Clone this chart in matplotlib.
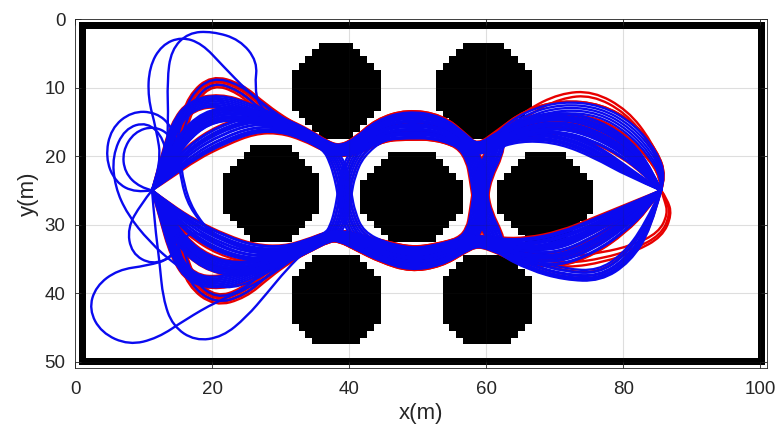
import numpy as np
import matplotlib
matplotlib.use("Agg")
import matplotlib.pyplot as plt
from matplotlib.path import Path
from matplotlib.patches import PathPatch
from matplotlib.colors import ListedColormap

plt.rcParams["font.family"] = ["Liberation Sans", "DejaVu Sans"]

# ---------------- occupancy map ----------------
MAP_COLS, MAP_ROWS = 100, 50
# obstacles: centre x, centre y, half width, half height, chamfer limit (|dx|+|dy|)
OBS_CX = [38.0, 59.5, 28.5, 49.0, 68.5, 38.0, 60.0]
OBS_CY = [10.5, 10.5, 25.5, 26.0, 26.0, 41.0, 41.0]
OBS_HW = [6.0, 6.5, 6.5, 7.0, 6.5, 6.0, 6.0]
OBS_HH = [6.5, 6.5, 6.5, 6.0, 6.0, 6.0, 6.0]
OBS_CH = [8.5, 9.0, 9.0, 9.0, 8.5, 9.0, 9.0]

START = (11.2, 25.0)
GOAL = (85.5, 25.0)

# ---------------- route pieces: (x, y, band half-width) ----------------
S0 = (START[0], START[1], 0.0)
G0 = (GOAL[0], GOAL[1], 0.0)

LEFT = {
    # fans from the start toward the upper-left gap
    "lu_a": [S0, (13.5, 22.8, .6), (17.0, 19.5, 1.2), (21.5, 16.9, 1.5), (26.0, 15.4, 1.3),
             (30.0, 15.6, 1.0), (33.5, 16.9, .8), (36.6, 18.6, .7)],
    "lu_b": [S0, (13.2, 21.8, .5), (15.5, 17.5, .9), (19.0, 14.3, 1.1), (23.5, 13.6, 1.1),
             (27.5, 14.5, 1.0), (31.0, 15.6, .9), (34.0, 17.0, .8), (36.6, 18.6, .7)],
    "lu_c": [S0, (14.0, 21.0, .4), (15.6, 16.0, .6), (17.0, 11.5, .8), (20.0, 8.8, .8),
             (24.0, 10.0, .8), (27.5, 13.0, .8), (31.0, 15.4, .8), (34.0, 17.0, .7), (36.6, 18.6, .6)],
    "lu_d": [S0, (12.6, 21.5, .4), (14.5, 15.5, .6), (17.0, 12.5, .8), (21.0, 11.8, .9),
             (25.5, 13.2, .9), (30.0, 15.2, .9), (33.8, 16.9, .8), (36.6, 18.6, .7)],
    # fans toward the lower-left gap
    "ll_a": [S0, (13.5, 27.5, .6), (17.0, 30.5, 1.2), (21.5, 33.0, 1.5), (26.0, 34.3, 1.3),
             (30.5, 34.2, 1.0), (34.0, 33.0, .8), (36.8, 31.8, .7)],
    "ll_b": [S0, (13.3, 28.5, .5), (15.5, 32.5, .9), (19.0, 35.5, 1.1), (23.5, 36.6, 1.1),
             (27.5, 35.8, 1.0), (31.0, 34.5, .9), (34.2, 33.1, .8), (36.8, 31.8, .7)],
    "ll_c": [S0, (14.0, 29.0, .4), (15.6, 34.0, .6), (17.0, 38.5, .8), (20.5, 41.2, .8),
             (24.5, 40.0, .8), (28.0, 37.0, .8), (31.0, 34.8, .8), (34.2, 33.1, .7), (36.8, 31.8, .6)],
    "ll_d": [S0, (12.6, 28.5, .4), (14.5, 34.5, .6), (17.0, 38.0, .8), (21.0, 38.6, .9),
             (25.5, 37.2, .9), (30.0, 35.0, .9), (33.8, 33.2, .8), (36.8, 31.8, .7)],
    # wide manoeuvres near the start
    "loop_t1": [S0, (12.6, 21.0, 0), (11.8, 16.0, 0), (10.6, 11.5, 0), (10.8, 7.0, 0), (12.6, 3.8, 0),
                (15.5, 2.6, 0), (18.5, 3.6, 0), (21.5, 6.8, 0), (25.0, 10.4, 0), (28.5, 13.4, .2),
                (31.5, 15.5, .3), (34.2, 17.0, .3), (36.6, 18.6, .3)],
    "loop_t2": [S0, (13.2, 21.0, 0), (13.6, 15.0, 0), (13.4, 9.0, 0), (14.0, 4.5, 0), (16.5, 2.0, 0),
                (20.0, 1.8, 0), (24.0, 3.0, 0), (26.6, 6.2, 0), (26.2, 9.8, 0), (26.8, 12.8, 0),
                (29.8, 14.9, .2), (33.2, 16.7, .3), (36.6, 18.6, .3)],
    "loop_w1": [S0, (8.8, 25.4, 0), (5.8, 23.8, 0), (4.4, 20.2, 0), (5.2, 16.0, 0), (8.2, 13.5, 0),
                (11.8, 13.6, 0), (14.2, 15.8, 0), (15.0, 19.5, 0), (15.4, 23.5, 0), (16.6, 27.5, 0),
                (19.5, 31.0, 0), (24.0, 33.4, .2), (28.5, 34.4, .3), (32.5, 33.5, .3), (36.8, 31.8, .3)],
    "loop_w2": [S0, (9.4, 24.6, 0), (7.2, 22.4, 0), (6.9, 19.3, 0), (8.6, 16.5, 0), (11.5, 15.6, 0),
                (14.0, 17.0, 0), (15.3, 20.0, 0), (15.8, 24.0, 0), (17.2, 28.0, 0), (20.0, 31.5, 0),
                (24.5, 33.6, .2), (29.0, 34.3, .3), (33.0, 33.3, .3), (36.8, 31.8, .3)],
    "loop_b1": [S0, (12.5, 28.5, 0), (14.8, 32.2, 0), (14.0, 35.0, 0), (10.5, 36.0, 0), (6.2, 36.6, 0),
                (3.0, 39.0, 0), (2.0, 42.4, 0), (3.8, 45.8, 0), (7.8, 47.6, 0), (12.0, 46.6, 0),
                (16.2, 43.8, 0), (20.5, 41.3, 0), (25.5, 39.2, .2), (30.0, 36.4, .3), (33.8, 33.4, .3),
                (36.8, 31.8, .3)],
    "loop_b2": [S0, (11.6, 30.0, 0), (12.3, 35.5, 0), (12.8, 40.8, 0), (14.2, 44.8, 0), (17.5, 47.0, 0),
                (21.5, 46.4, 0), (25.0, 43.5, 0), (28.0, 40.0, 0), (30.8, 36.6, .2), (33.8, 33.6, .3),
                (36.8, 31.8, .3)],
    "loop_c": [S0, (9.6, 27.0, 0), (7.6, 30.5, 0), (8.2, 34.2, 0), (11.2, 35.9, 0), (14.4, 34.6, 0),
               (15.8, 31.8, 0), (17.8, 31.0, 0), (21.0, 33.0, .2), (25.5, 34.6, .3), (30.0, 34.3, .3),
               (33.8, 33.1, .3), (36.8, 31.8, .3)],
    "loop_d": [S0, (13.5, 22.0, 0), (13.0, 17.5, 0), (10.5, 15.0, 0), (7.2, 16.0, 0), (5.4, 20.0, 0),
               (5.8, 24.5, 0), (7.6, 28.5, 0), (10.8, 32.5, 0), (14.5, 35.8, 0), (18.5, 38.5, 0),
               (23.0, 39.5, .2), (28.0, 37.2, .3), (32.5, 34.0, .3), (36.8, 31.8, .3)],
}

MID = {
    "UU": [(38.6, 19.3, .8), (41.2, 18.5, 1.1), (44.5, 16.2, 1.6), (48.5, 15.4, 2.1),
           (53.0, 15.8, 1.8), (56.5, 17.8, 1.1), (58.8, 19.2, .8)],
    "LL": [(38.6, 31.6, .8), (41.3, 32.6, 1.1), (45.0, 34.0, 1.5), (49.0, 35.1, 1.7),
           (53.0, 34.5, 1.6), (56.5, 33.0, 1.1), (58.8, 32.3, .8)],
    "UL": [(38.0, 20.4, 1.1), (38.9, 23.0, 1.2), (39.3, 25.5, 1.1), (39.8, 28.5, 1.2), (41.3, 31.8, 1.2),
           (45.0, 34.0, 1.5), (49.0, 35.1, 1.7), (53.0, 34.5, 1.6), (56.5, 33.0, 1.1), (58.8, 32.3, .8)],
    "LU": [(38.0, 30.8, 1.1), (38.9, 28.3, 1.2), (39.3, 25.5, 1.1), (39.8, 22.6, 1.2), (41.2, 19.4, 1.2),
           (44.5, 16.2, 1.6), (48.5, 15.4, 2.1), (53.0, 15.8, 1.8), (56.5, 17.8, 1.1), (58.8, 19.2, .8)],
    "UUL": [(38.6, 19.3, .8), (41.2, 18.5, 1.1), (44.5, 16.2, 1.6), (48.5, 15.4, 2.1),
            (53.0, 15.8, 1.8), (56.5, 17.8, 1.1), (58.2, 20.4, 1.1), (58.8, 23.0, 1.2),
            (59.1, 25.7, 1.1), (59.6, 28.5, 1.2), (61.2, 31.8, 1.2)],
    "LLU": [(38.6, 31.6, .8), (41.3, 32.6, 1.1), (45.0, 34.0, 1.5), (49.0, 35.1, 1.7),
            (53.0, 34.5, 1.6), (56.5, 33.0, 1.1), (58.2, 31.0, 1.1), (58.8, 28.5, 1.2),
            (59.1, 25.7, 1.1), (59.6, 22.8, 1.2), (61.2, 19.5, 1.2)],
}

RIGHT = {
    "ru_a": [(62.0, 17.4, 1.0), (66.0, 15.6, 1.4), (71.0, 15.0, 1.6), (76.0, 16.3, 1.7),
             (80.5, 19.0, 1.4), (83.6, 22.3, .7), G0],
    "ru_b": [(62.0, 17.0, .8), (66.0, 14.3, 1.0), (71.0, 12.9, 1.0), (76.5, 13.4, 1.0),
             (81.0, 16.0, 1.0), (84.3, 19.8, .8), (85.8, 23.0, .4), G0],
    "ru_c": [(62.0, 17.8, .8), (66.0, 16.8, 1.0), (71.0, 17.3, 1.0), (76.0, 19.3, 1.0),
             (81.0, 22.5, .6), G0],
    "ru_d": [(62.0, 17.0, .6), (66.0, 13.6, .6), (70.8, 11.2, .6), (75.5, 10.8, .5),
             (80.5, 13.5, .4), (84.0, 18.0, .3), (85.6, 22.0, .2), G0],
    "rl_a": [(62.0, 33.3, 1.0), (66.0, 34.5, 1.3), (70.5, 34.6, 1.6), (75.0, 32.8, 1.7),
             (79.5, 30.0, 1.4), (83.2, 27.2, .7), G0],
    "rl_b": [(62.0, 33.8, .8), (66.5, 36.0, 1.0), (71.5, 37.4, 1.0), (76.5, 37.6, 1.0),
             (80.5, 35.0, 1.0), (83.6, 30.5, .7), G0],
    "rl_c": [(62.0, 33.5, .6), (67.0, 35.0, .8), (72.0, 35.5, .8), (77.0, 34.8, .7),
             (81.5, 33.5, .5), (85.4, 31.5, .4), (86.8, 28.5, .3), (86.2, 26.3, .2), G0],
    "rl_d": [(62.0, 32.8, .8), (66.0, 33.0, 1.0), (71.0, 32.0, 1.0), (76.0, 30.0, 1.0),
             (81.0, 27.5, .6), G0],
}

# runs: (left piece, middle piece, right piece, lateral offsets inside the band)
RED_RUNS = [
    ("lu_c", "UU", "ru_a", [-0.8, -0.2, 0.4, 1.0]),
    ("lu_c", "UL", "rl_b", [-0.6, 0.0, 0.6]),
    ("ll_c", "LL", "rl_a", [-0.8, -0.2, 0.4, 1.0]),
    ("ll_c", "LU", "ru_c", [-0.6, 0.0, 0.6]),
    ("lu_b", "UU", "ru_d", [-0.6, 0.6]),
    ("ll_b", "LL", "rl_c", [-1.0, 0.2, 1.0]),
    ("lu_a", "UUL", "rl_a", [-1.05, 1.05]),
    ("ll_a", "LLU", "ru_b", [-1.05, 1.05]),
    ("lu_d", "UU", "ru_b", [-1.05, 1.05]),
    ("ll_d", "LL", "rl_d", [-1.05, 1.05]),
]

BLUE_RUNS = [
    ("lu_a", "UU", "ru_a", [-0.95, -0.65, -0.35, -0.05, 0.25, 0.55, 0.85]),
    ("lu_b", "UU", "ru_c", [-0.85, -0.55, -0.25, 0.05, 0.35, 0.65, 0.95]),
    ("lu_d", "UL", "rl_a", [-0.9, -0.6, -0.3, 0.0, 0.3, 0.6, 0.9]),
    ("ll_a", "LL", "rl_a", [-0.95, -0.65, -0.35, -0.05, 0.25, 0.55, 0.85]),
    ("ll_b", "LL", "rl_d", [-0.85, -0.55, -0.25, 0.05, 0.35, 0.65, 0.95]),
    ("ll_d", "LU", "ru_a", [-0.9, -0.6, -0.3, 0.0, 0.3, 0.6, 0.9]),
    ("lu_a", "UUL", "rl_b", [-0.9, -0.5, -0.1, 0.3, 0.7]),
    ("ll_a", "LLU", "ru_b", [-0.9, -0.5, -0.1, 0.3, 0.7]),
    ("lu_b", "UUL", "rl_a", [-0.7, -0.3, 0.1, 0.5, 0.9]),
    ("ll_b", "LLU", "ru_a", [-0.7, -0.3, 0.1, 0.5, 0.9]),
    ("lu_c", "UU", "ru_a", [-0.5, 0.5]),
    ("ll_c", "LL", "rl_b", [-0.5, 0.5]),
    ("lu_b", "UL", "rl_d", [-0.6, 0.0, 0.6]),
    ("ll_b", "LU", "ru_c", [-0.6, 0.0, 0.6]),
    ("loop_t1", "UU", "ru_a", [0.0]),
    ("loop_t2", "UL", "rl_a", [0.0]),
    ("loop_w1", "LL", "rl_b", [0.0]),
    ("loop_w2", "LU", "ru_a", [0.0]),
    ("loop_b1", "LL", "rl_a", [0.0]),
    ("loop_b2", "LLU", "ru_c", [0.0]),
    ("loop_c", "LL", "rl_d", [0.0]),
    ("loop_d", "LU", "ru_a", [0.0]),
]

RED = "#e80000"
BLUE = "#0a0af0"


def shifted(waypoints, d):
    p = np.array([w[:2] for w in waypoints], float)
    s = np.array([w[2] for w in waypoints], float)
    t = np.gradient(p, axis=0)
    t /= np.linalg.norm(t, axis=1, keepdims=True)
    n = np.column_stack([-t[:, 1], t[:, 0]])
    return p + d * s[:, None] * n


def smooth(points):
    verts = [points[0]]
    codes = [Path.MOVETO]
    n = len(points)
    for i in range(1, n - 1):
        end = points[i + 1] if i == n - 2 else (points[i] + points[i + 1]) / 2
        verts += [points[i], end]
        codes += [Path.CURVE3, Path.CURVE3]
    return Path(verts, codes)


# build occupancy grid (cell centres at integer coordinates)
cols = np.arange(1, MAP_COLS + 1)
rows = np.arange(1, MAP_ROWS + 1)
X, Y = np.meshgrid(cols, rows)
occ = np.zeros((MAP_ROWS, MAP_COLS), dtype=int)
occ[0, :] = occ[-1, :] = 1
occ[:, 0] = occ[:, -1] = 1
for cx, cy, hw, hh, ch in zip(OBS_CX, OBS_CY, OBS_HW, OBS_HH, OBS_CH):
    dx, dy = np.abs(X - cx), np.abs(Y - cy)
    occ[(dx <= hw) & (dy <= hh) & (dx + dy <= ch)] = 1

fig = plt.figure(figsize=(7.79, 4.34), dpi=100, facecolor="white")
ax = fig.add_axes([75.3 / 779, 1 - 368.4 / 434, 691.9 / 779, 349.4 / 434])
ax.imshow(occ, cmap=ListedColormap(["white", "black"]), extent=(0.5, 100.5, 50.5, 0.5),
          interpolation="nearest", aspect="auto", zorder=0)

for runs, color in ((RED_RUNS, RED), (BLUE_RUNS, BLUE)):
    for left, mid, right, offsets in runs:
        wps = LEFT[left] + MID[mid] + RIGHT[right]
        for d in offsets:
            path = smooth(shifted(wps, d))
            ax.add_patch(PathPatch(path, facecolor="none", edgecolor=color, lw=1.7,
                                   capstyle="round", joinstyle="round", zorder=2))

ax.set_xlim(0, 101)
ax.set_ylim(51, 0)
ax.set_xticks([0, 20, 40, 60, 80, 100])
ax.set_yticks([0, 10, 20, 30, 40, 50])
ax.set_axisbelow(False)
ax.grid(True, color=(0.15, 0.15, 0.15), alpha=0.15, lw=0.8)
ax.tick_params(direction="in", top=True, right=True, length=4, width=0.6,
               colors="#262626", labelsize=13.5)
ax.tick_params(axis="x", pad=9)
ax.tick_params(axis="y", pad=7)
for sp in ax.spines.values():
    sp.set_color("#262626")
    sp.set_linewidth(0.6)
ax.set_xlabel("x(m)", fontsize=16, color="#262626", labelpad=4)
ax.set_ylabel("y(m)", fontsize=16, color="#262626", labelpad=4)

fig.savefig("out.png", dpi=100, facecolor="white")
